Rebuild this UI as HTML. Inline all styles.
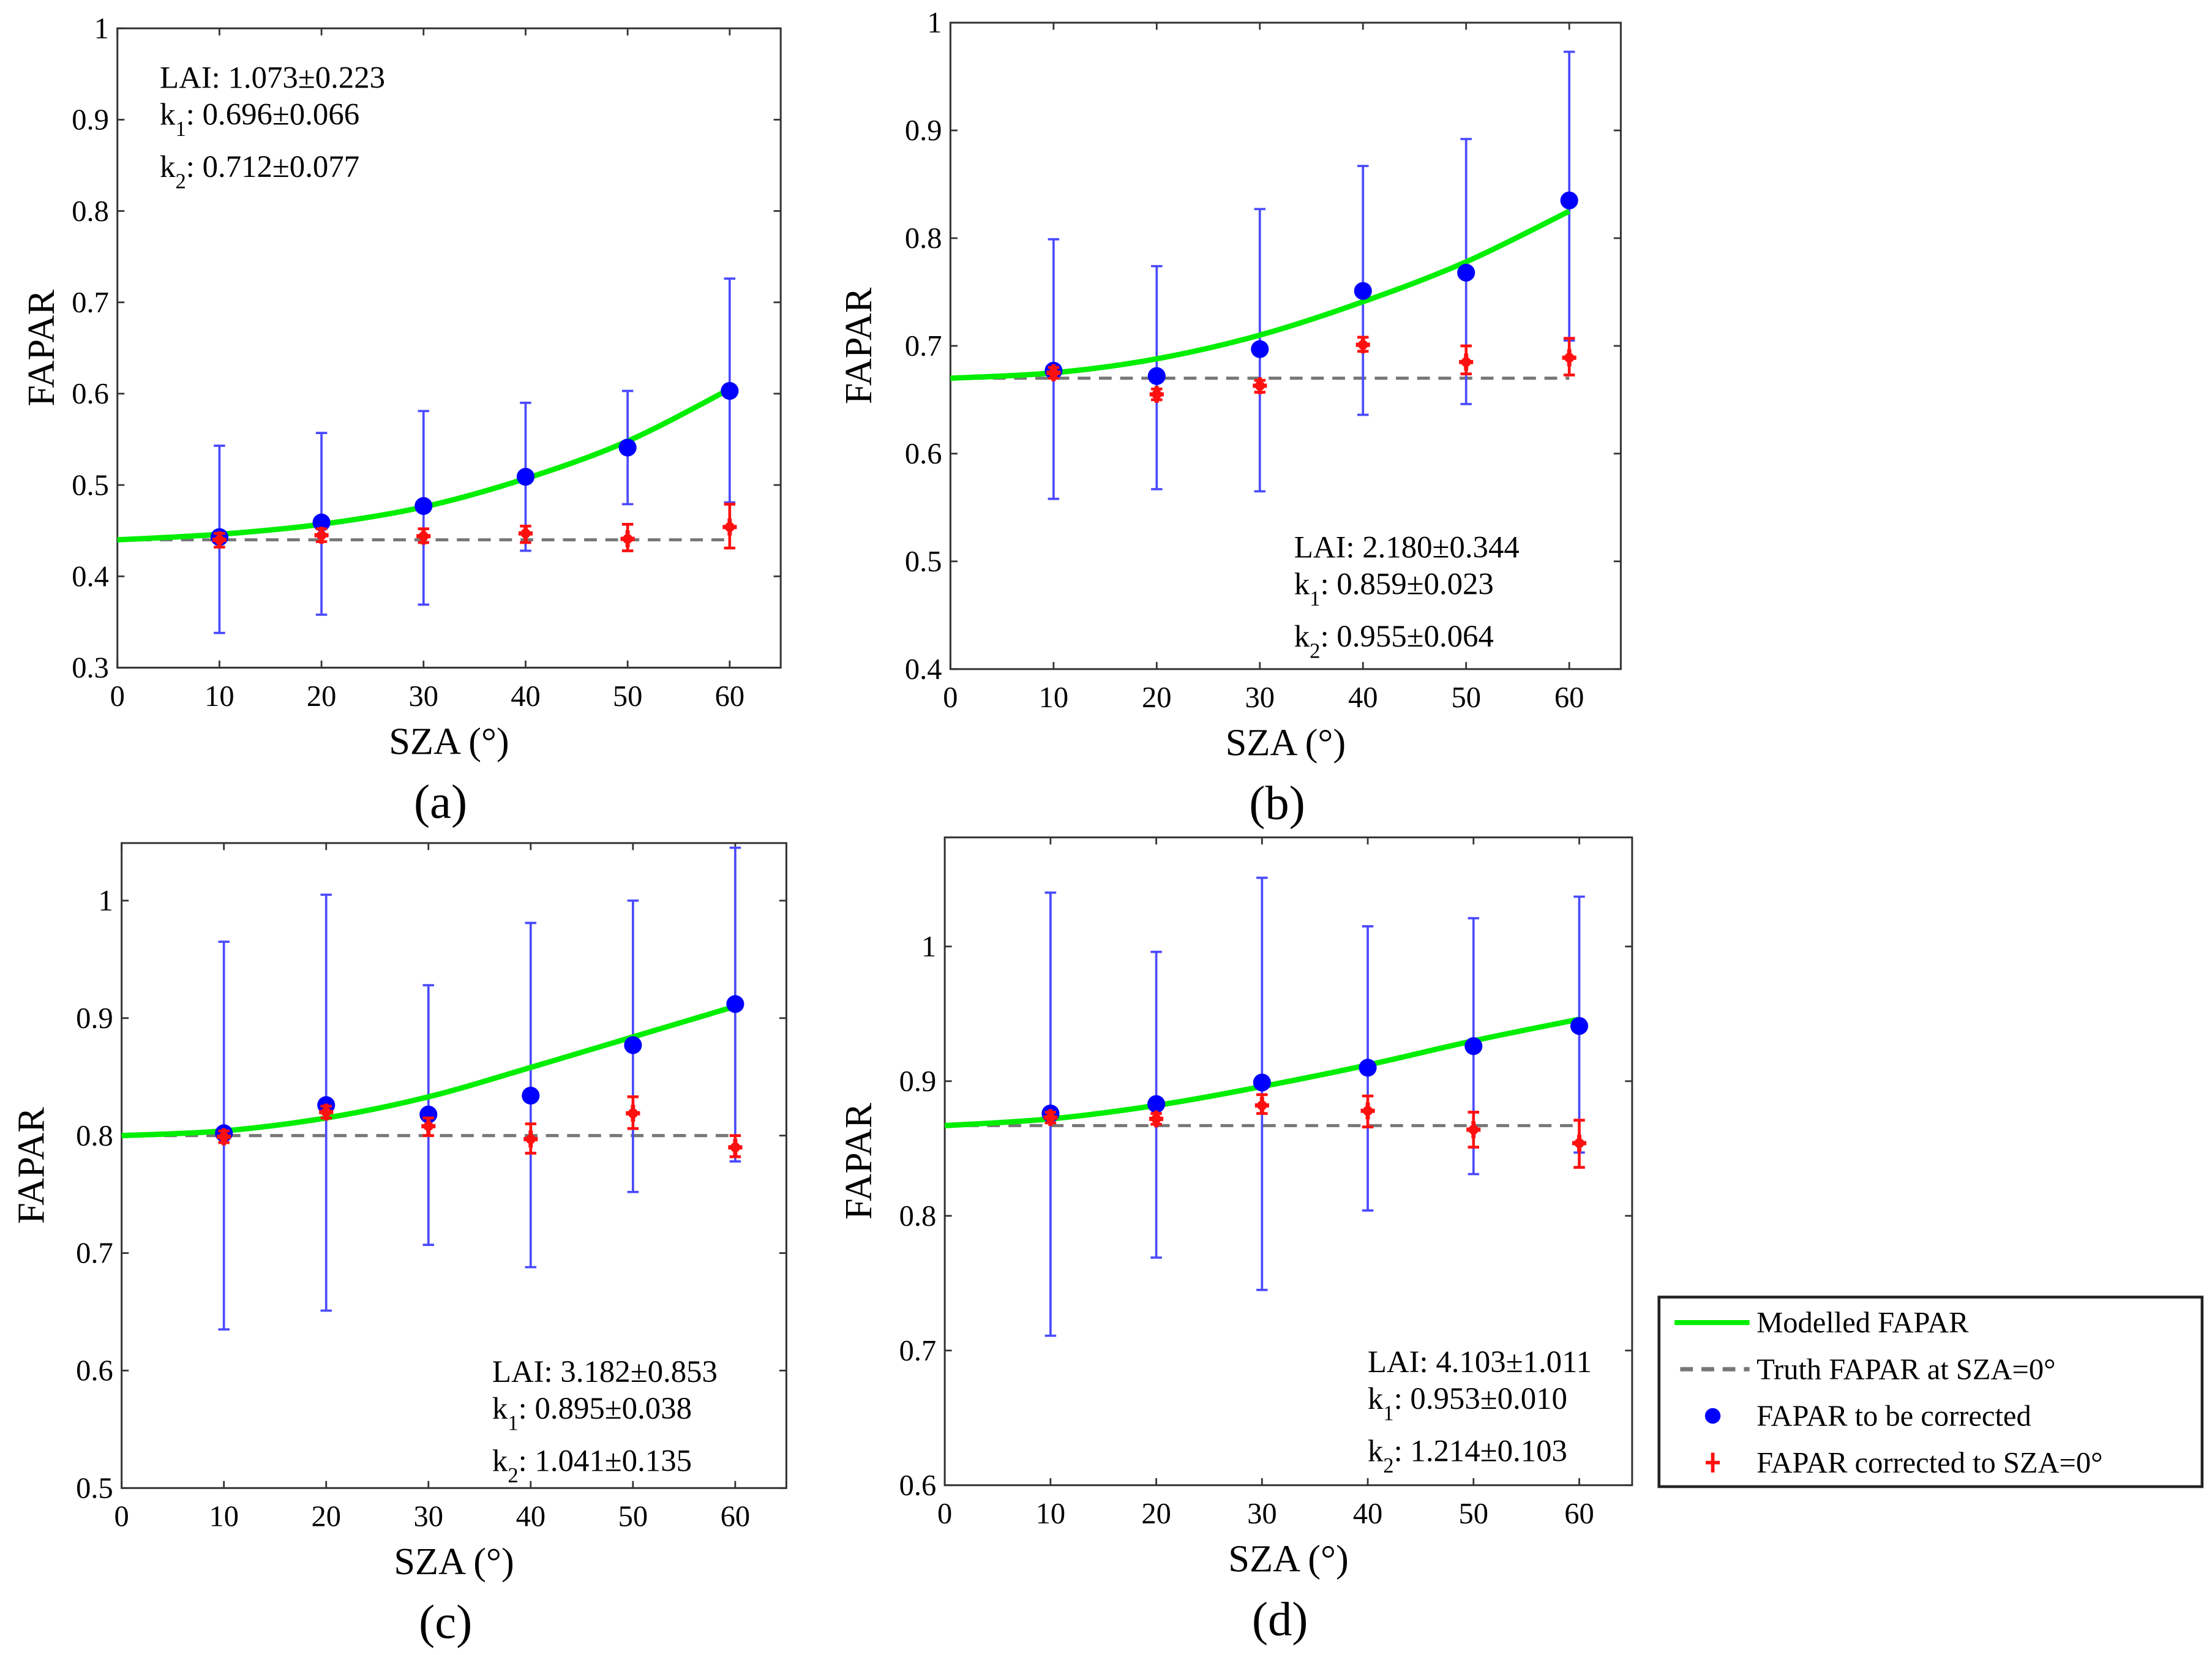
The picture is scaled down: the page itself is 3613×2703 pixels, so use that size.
<!DOCTYPE html>
<html><head><meta charset="utf-8">
<style>
html,body{margin:0;padding:0;background:#fff;}
svg{display:block;}
svg text{font-family:"Liberation Serif","DejaVu Serif",serif;fill:#000;}
</style></head>
<body>
<svg id="fig" width="3613" height="2703" viewBox="0 0 1564 1170" xmlns="http://www.w3.org/2000/svg" font-family="Liberation Serif, DejaVu Serif, serif"></svg>
<script>
// ---- data ----
const sza = [10,20,30,40,50,60];
const curveX = [0,10,20,30,40,50,60];

const aBlue   = [0.443,0.459,0.477,0.509,0.541,0.603];
const aBlueLo = [0.338,0.358,0.369,0.428,0.479,0.481];
const aBlueHi = [0.543,0.557,0.581,0.590,0.603,0.726];
const aRed    = [0.440,0.445,0.444,0.447,0.441,0.454];
const aRedLo  = [0.432,0.438,0.437,0.437,0.428,0.431];
const aRedHi  = [0.447,0.452,0.452,0.455,0.457,0.479];
const aTruth  = 0.44;
const aCurve  = [0.44,0.446,0.457,0.476,0.507,0.548,0.605];
const aTicks  = [0.3,0.4,0.5,0.6,0.7,0.8,0.9,1];
const aTickLabels = ["0.3","0.4","0.5","0.6","0.7","0.8","0.9","1"];

const bBlue   = [0.677,0.672,0.697,0.751,0.768,0.835];
const bBlueLo = [0.558,0.567,0.565,0.636,0.646,0.705];
const bBlueHi = [0.799,0.774,0.827,0.867,0.892,0.973];
const bRed    = [0.675,0.655,0.663,0.701,0.685,0.689];
const bRedLo  = [0.670,0.650,0.657,0.695,0.674,0.673];
const bRedHi  = [0.680,0.660,0.668,0.708,0.700,0.707];
const bTruth  = 0.67;
const bCurve  = [0.67,0.675,0.688,0.71,0.741,0.778,0.825];
const bTicks  = [0.4,0.5,0.6,0.7,0.8,0.9,1];
const bTickLabels = ["0.4","0.5","0.6","0.7","0.8","0.9","1"];

const cBlue   = [0.802,0.826,0.818,0.834,0.877,0.912];
const cBlueLo = [0.635,0.651,0.707,0.688,0.752,0.778];
const cBlueHi = [0.965,1.005,0.928,0.981,1.000,1.045];
const cRed    = [0.799,0.820,0.808,0.797,0.819,0.790];
const cRedLo  = [0.794,0.815,0.800,0.785,0.806,0.782];
const cRedHi  = [0.804,0.825,0.815,0.810,0.833,0.800];
const cTruth  = 0.80;
const cCurve  = [0.80,0.804,0.815,0.833,0.858,0.884,0.91];
const cTicks  = [0.5,0.6,0.7,0.8,0.9,1];
const cTickLabels = ["0.5","0.6","0.7","0.8","0.9","1"];

const dBlue   = [0.876,0.883,0.899,0.910,0.926,0.941];
const dBlueLo = [0.711,0.769,0.745,0.804,0.831,0.847];
const dBlueHi = [1.040,0.996,1.051,1.015,1.021,1.037];
const dRed    = [0.873,0.872,0.882,0.878,0.864,0.854];
const dRedLo  = [0.869,0.868,0.876,0.866,0.851,0.836];
const dRedHi  = [0.877,0.876,0.890,0.889,0.877,0.871];
const dTruth  = 0.867;
const dCurve  = [0.867,0.872,0.882,0.896,0.912,0.93,0.946];
const dTicks  = [0.6,0.7,0.8,0.9,1];
const dTickLabels = ["0.6","0.7","0.8","0.9","1"];

const xTicks = [0,10,20,30,40,50,60];
const xTickLabels = ["0","10","20","30","40","50","60"];

// ---- drawing ----
const NS = "http://www.w3.org/2000/svg";
const svg = document.getElementById("fig");
const FONT = "Liberation Serif, DejaVu Serif, serif";
function mk(tag, attrs, parent){
  const e = document.createElementNS(NS, tag);
  for (const k in attrs) e.setAttribute(k, attrs[k]);
  if (tag === "text") e.setAttribute("font-family", FONT);
  (parent||svg).appendChild(e);
  return e;
}

function panel(p){
  const g = mk("g", {});
  
  
  const xs = v => p.L + (v - 0) / (65 - 0) * (p.R - p.L);
  const ys = v => p.B - (v - p.ymin) / (p.ymax - p.ymin) * (p.B - p.T);

  const frame = mk("rect", {x:p.L, y:p.T, width:p.R-p.L, height:p.B-p.T, fill:"#fff", stroke:"#333", "stroke-width":1.3}, g);
  
  

  p.yt.forEach((v,i)=>{
    const y = ys(v);
    mk("line",{x1:p.L,x2:p.L+5,y1:y,y2:y,stroke:"#333","stroke-width":1.2},g);
    mk("line",{x1:p.R,x2:p.R-5,y1:y,y2:y,stroke:"#333","stroke-width":1.2},g);
    const t = mk("text",{x:p.L-6,y:y+7,"font-size":21,"text-anchor":"end"},g);
    t.textContent = p.ytl[i];
    
    
  });
  xTicks.forEach((v,i)=>{
    const x = xs(v);
    mk("line",{x1:x,x2:x,y1:p.B,y2:p.B-5,stroke:"#333","stroke-width":1.2},g);
    mk("line",{x1:x,x2:x,y1:p.T,y2:p.T+5,stroke:"#333","stroke-width":1.2},g);
    const t = mk("text",{x:x,y:p.B+27,"font-size":21,"text-anchor":"middle"},g);
    t.textContent = xTickLabels[i];
    
    
  });

  const tr = mk("line",{x1:p.L,x2:xs(60),y1:ys(p.truth),y2:ys(p.truth),stroke:"#777","stroke-width":2.2,"stroke-dasharray":"9,6"},g);
  
  

  sza.forEach((s,i)=>{
    const x = xs(s);
    const eb = mk("g",{stroke:"#4a4aff","stroke-width":1.6},g);
    
    
    mk("line",{x1:x,x2:x,y1:ys(p.blo[i]),y2:ys(p.bhi[i])},eb);
    mk("line",{x1:x-4,x2:x+4,y1:ys(p.blo[i]),y2:ys(p.blo[i])},eb);
    mk("line",{x1:x-4,x2:x+4,y1:ys(p.bhi[i]),y2:ys(p.bhi[i])},eb);
  });

  const pts = curveX.map((s,i)=>[xs(s), ys(p.curve[i])]);
  let d = "M"+pts[0][0]+","+pts[0][1];
  for (let i=0;i<pts.length-1;i++){
    const p0 = pts[Math.max(i-1,0)], p1 = pts[i], p2 = pts[i+1], p3 = pts[Math.min(i+2,pts.length-1)];
    const c1x = p1[0]+(p2[0]-p0[0])/6, c1y = p1[1]+(p2[1]-p0[1])/6;
    const c2x = p2[0]-(p3[0]-p1[0])/6, c2y = p2[1]-(p3[1]-p1[1])/6;
    d += " C"+c1x+","+c1y+" "+c2x+","+c2y+" "+p2[0]+","+p2[1];
  }
  const gc = mk("path",{d:d,fill:"none",stroke:"#00ee00","stroke-width":3.8},g);
  
  

  sza.forEach((s,i)=>{
    const c = mk("circle",{cx:xs(s),cy:ys(p.blue[i]),r:6.3,fill:"#0000ff"},g);
    
    
  });
  sza.forEach((s,i)=>{
    const x = xs(s), y = ys(p.red[i]);
    const rg = mk("g",{stroke:"#ff1010","stroke-width":2},g);
    
    
    mk("line",{x1:x,x2:x,y1:ys(p.rlo[i]),y2:ys(p.rhi[i])},rg);
    mk("line",{x1:x-4,x2:x+4,y1:ys(p.rlo[i]),y2:ys(p.rlo[i])},rg);
    mk("line",{x1:x-4,x2:x+4,y1:ys(p.rhi[i]),y2:ys(p.rhi[i])},rg);
    mk("line",{x1:x-5,x2:x+5,y1:y,y2:y,"stroke-width":3},rg);
    mk("line",{x1:x,x2:x,y1:y-6,y2:y+6,"stroke-width":3},rg);
    mk("circle",{cx:x,cy:y,r:3.5,fill:"#ff1010",stroke:"none"},rg);
  });

  const yl = mk("text",{x:0,y:0,"font-size":27,"text-anchor":"middle",transform:"translate("+p.ylx+","+((p.T+p.B)/2)+") rotate(-90)"},g);
  yl.textContent = "FAPAR";
  
  
  const xl = mk("text",{x:(p.L+p.R)/2,y:p.B+61,"font-size":27,"text-anchor":"middle"},g);
  xl.textContent = "SZA (°)";
  
  
  const pl = mk("text",{x:(p.L+p.R)/2-6,y:p.B+106,"font-size":34,"text-anchor":"middle"},g);
  pl.textContent = "("+p.id+")";
  
  

  const an = mk("g",{},g);
  
  
  const t1 = mk("text",{x:p.ax,y:p.ay,"font-size":22},an); t1.textContent = "LAI: "+p.lai;
  const t2 = mk("text",{x:p.ax,y:p.ay+26,"font-size":22},an);
  t2.innerHTML = 'k<tspan font-size="15" dy="8">1</tspan><tspan dy="-8">: '+p.k1+'</tspan>';
  const t3 = mk("text",{x:p.ax,y:p.ay+63,"font-size":22},an);
  t3.innerHTML = 'k<tspan font-size="15" dy="8">2</tspan><tspan dy="-8">: '+p.k2+'</tspan>';
}

panel({id:"a",L:83,R:552,T:20,B:472,ymin:0.3,ymax:1,yt:aTicks,ytl:aTickLabels,blue:aBlue,blo:aBlueLo,bhi:aBlueHi,red:aRed,rlo:aRedLo,rhi:aRedHi,truth:aTruth,curve:aCurve,ylx:38,ax:113,ay:62,lai:"1.073±0.223",k1:"0.696±0.066",k2:"0.712±0.077"});
panel({id:"b",L:672,R:1146,T:16,B:473,ymin:0.4,ymax:1,yt:bTicks,ytl:bTickLabels,blue:bBlue,blo:bBlueLo,bhi:bBlueHi,red:bRed,rlo:bRedLo,rhi:bRedHi,truth:bTruth,curve:bCurve,ylx:616,ax:915,ay:394,lai:"2.180±0.344",k1:"0.859±0.023",k2:"0.955±0.064"});
panel({id:"c",L:86,R:556,T:596,B:1052,ymin:0.5,ymax:1.049,yt:cTicks,ytl:cTickLabels,blue:cBlue,blo:cBlueLo,bhi:cBlueHi,red:cRed,rlo:cRedLo,rhi:cRedHi,truth:cTruth,curve:cCurve,ylx:31,ax:348,ay:977,lai:"3.182±0.853",k1:"0.895±0.038",k2:"1.041±0.135"});
panel({id:"d",L:668,R:1154,T:592,B:1050,ymin:0.6,ymax:1.081,yt:dTicks,ytl:dTickLabels,blue:dBlue,blo:dBlueLo,bhi:dBlueHi,red:dRed,rlo:dRedLo,rhi:dRedHi,truth:dTruth,curve:dCurve,ylx:616,ax:967,ay:970,lai:"4.103±1.011",k1:"0.953±0.010",k2:"1.214±0.103"});

const lg = mk("g",{});


mk("rect",{x:1173,y:917,width:384,height:134,fill:"#fff",stroke:"#222","stroke-width":2},lg);
const entries = ["Modelled FAPAR","Truth FAPAR at SZA=0°","FAPAR to be corrected","FAPAR corrected to SZA=0°"];
entries.forEach((txt,i)=>{
  const y = 935 + i*33;
  const e = mk("g",{},lg);
  
  
  if (i===0) mk("line",{x1:1184,x2:1237,y1:y,y2:y,stroke:"#00ee00","stroke-width":3.5},e);
  if (i===1) mk("line",{x1:1188,x2:1237,y1:y,y2:y,stroke:"#777","stroke-width":3,"stroke-dasharray":"9,6"},e);
  if (i===2) mk("circle",{cx:1211,cy:y,r:5.5,fill:"#0000ff"},e);
  if (i===3){ mk("line",{x1:1206,x2:1216,y1:y,y2:y,stroke:"#ff1010","stroke-width":2.5},e); mk("line",{x1:1211,x2:1211,y1:y-7,y2:y+7,stroke:"#ff1010","stroke-width":2.5},e); }
  const t = mk("text",{x:1242,y:y+7,"font-size":21},e);
  t.textContent = txt;
});
</script>
</body></html>
